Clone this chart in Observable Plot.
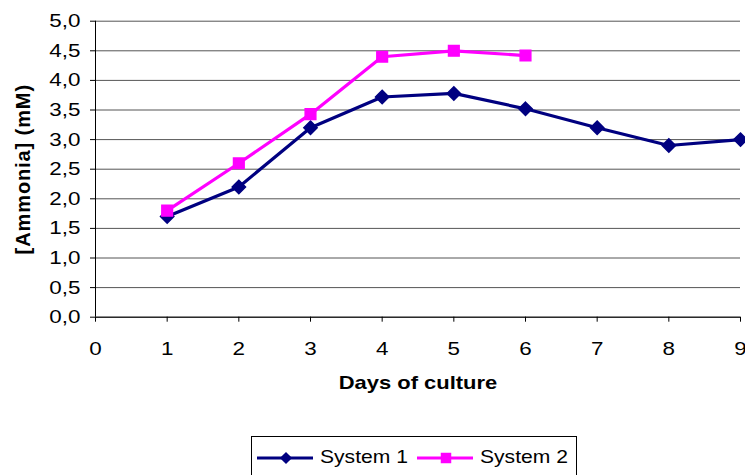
<!DOCTYPE html>
<html>
<head>
<meta charset="utf-8">
<script src="https://cdn.jsdelivr.net/npm/d3@7"></script>
<script src="https://cdn.jsdelivr.net/npm/@observablehq/plot@0.6"></script>
<style>
  html, body { margin: 0; padding: 0; background: #fff; }
  #wrap { position: relative; width: 745px; height: 475px; overflow: hidden; font-family: "Liberation Sans", Arial, sans-serif; }
  #legend { position: absolute; left: 251px; top: 436px; width: 326px; height: 60px; border: 1px solid #000; box-sizing: border-box; }
  .sw { position: absolute; top: 10px; }
  .lab { position: absolute; top: 9px; font-size: 18.5px; line-height: 22px; color: #000; transform: scaleX(1.14); transform-origin: 0 50%; white-space: nowrap; }
</style>
</head>
<body>
<div id="wrap"></div>
<script>
const days1 = [1, 2, 3, 4, 5, 6, 7, 8, 9];
const system1 = [1.7, 2.2, 3.2, 3.72, 3.78, 3.52, 3.2, 2.9, 3.0];
const days2 = [1, 2, 3, 4, 5, 6];
const system2 = [1.8, 2.6, 3.43, 4.4, 4.5, 4.42];
const seriesNames = ["System 1", "System 2"];
const seriesColors = ["#000080", "#FF00FF"];
const seriesSymbols = ["diamond2", "square"];
const xTicks = [0, 1, 2, 3, 4, 5, 6, 7, 8, 9];
const yTicks = [0, 0.5, 1, 1.5, 2, 2.5, 3, 3.5, 4, 4.5, 5];
const xTitle = "Days of culture";
const yTitle = "[Ammonia] (mM)";

const data = [
  ...days1.map((d, i) => ({day: d, value: system1[i], series: seriesNames[0]})),
  ...days2.map((d, i) => ({day: d, value: system2[i], series: seriesNames[1]}))
];

const fmt = d => d.toFixed(1).replace(".", ",");
const FS = 19;

const chart = Plot.plot({
  width: 745,
  height: 420,
  marginLeft: 95,
  marginRight: 5,
  marginTop: 20.7,
  marginBottom: 103.3,
  style: {fontFamily: "'Liberation Sans', Arial, sans-serif", fontSize: FS + "px", color: "#000", background: "#fff"},
  x: {domain: [0, 9]},
  y: {domain: [0, 5]},
  color: {domain: seriesNames, range: seriesColors},
  symbol: {domain: seriesNames, range: seriesSymbols},
  marks: [
    Plot.gridY(yTicks, {stroke: "#555", strokeOpacity: 1, strokeWidth: 1}),
    Plot.axisY(yTicks, {tickFormat: fmt, tickSize: 5, tickPadding: 10, label: null, stroke: "#000", fontSize: FS}),
    Plot.axisX(xTicks, {tickFormat: d => String(d), tickSize: 5, tickPadding: 19, label: null, stroke: "#000", fontSize: FS}),
    Plot.ruleX([0], {stroke: "#000"}),
    Plot.ruleY([0], {stroke: "#000"}),
    Plot.line(data, {x: "day", y: "value", z: "series", stroke: "series", strokeWidth: 3.2}),
    Plot.dot(data, {x: "day", y: "value", symbol: "series", fill: "series", stroke: "series", r: 6}),
    Plot.text([xTitle], {frameAnchor: "bottom", dy: 71.5, fontWeight: "bold", fontSize: 18.6}),
    Plot.text([yTitle], {frameAnchor: "left", dx: -72, rotate: -90, textAnchor: "middle", fontWeight: "bold", fontSize: 20})
  ]
});

const wrap = document.getElementById("wrap");
wrap.appendChild(chart);

// widen the glyphs (like the reference's stretched font); the rotated title gets letter spacing instead
const SX = 1.18;
Array.from(chart.querySelectorAll("text")).forEach(t => {
  const rotated = (t.getAttribute("transform") || "").includes("rotate");
  if (rotated) {
    t.setAttribute("letter-spacing", "0.9");
    return;
  }
  const len = t.getComputedTextLength();
  if (len > 0) {
    t.setAttribute("textLength", (len * SX).toFixed(2));
    t.setAttribute("lengthAdjust", "spacingAndGlyphs");
  }
});

const legend = document.createElement("div");
legend.id = "legend";
seriesNames.forEach((name, i) => {
  const sw = d3.create("svg").attr("class", "sw").attr("width", 58).attr("height", 22)
    .style("left", (4 + i * 160) + "px");
  sw.append("line").attr("x1", 1).attr("x2", 57).attr("y1", 11).attr("y2", 11)
    .attr("stroke", seriesColors[i]).attr("stroke-width", 3.2);
  const sym = seriesSymbols[i] === "square" ? d3.symbolSquare : d3.symbolDiamond2;
  sw.append("path").attr("transform", "translate(30,11)")
    .attr("d", d3.symbol(sym, seriesSymbols[i] === "square" ? 110 : 95)())
    .attr("fill", seriesColors[i]);
  legend.appendChild(sw.node());
  const label = document.createElement("span");
  label.className = "lab";
  label.style.left = (68 + i * 160) + "px";
  label.textContent = name;
  legend.appendChild(label);
});
wrap.appendChild(legend);
</script>
</body>
</html>
